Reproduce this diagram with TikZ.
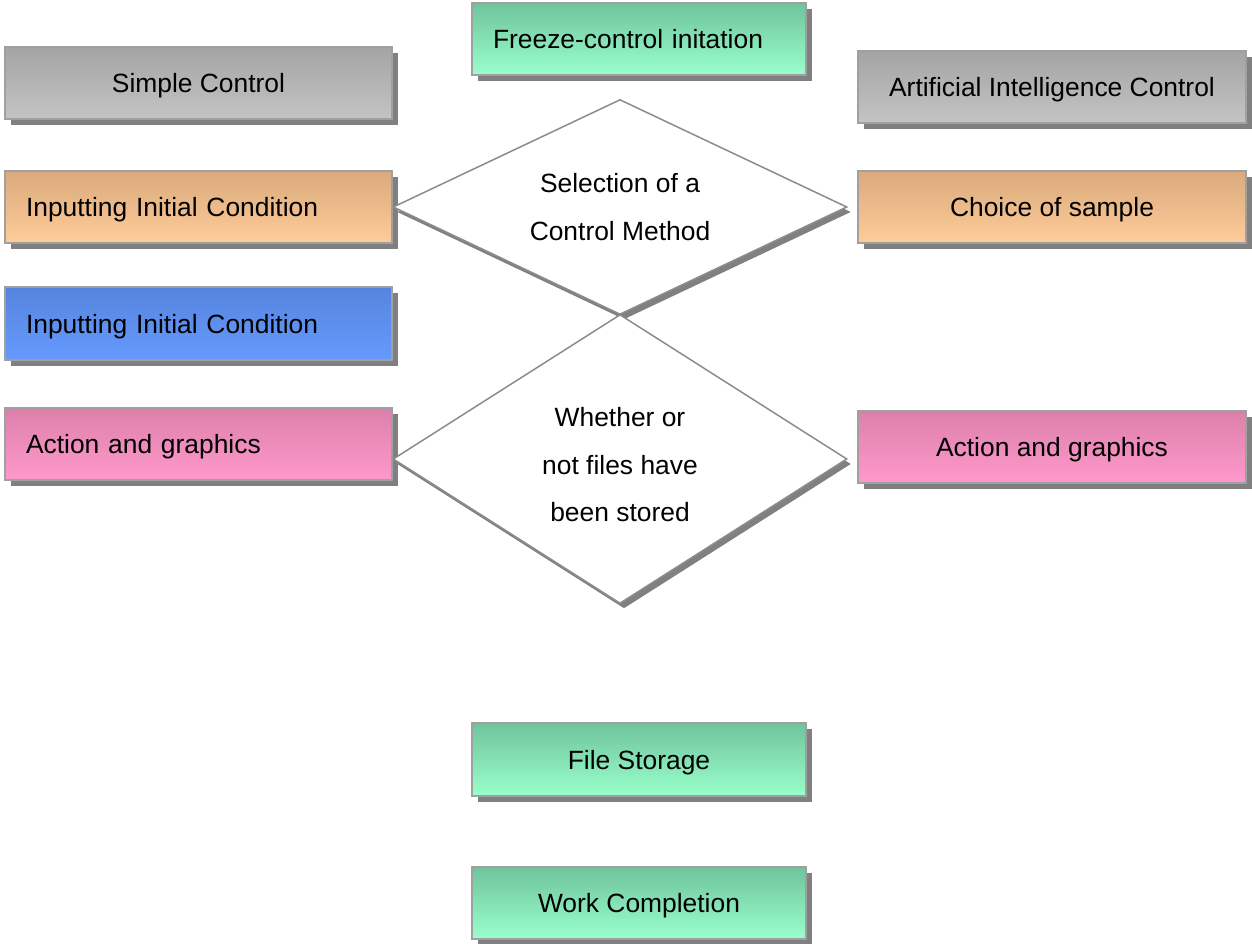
\documentclass[tikz,border=0pt]{standalone}
\usepackage{fontspec}
\setmainfont{Liberation Sans}
\usetikzlibrary{shapes.geometric,shadows}
\definecolor{shgray}{HTML}{808080}
\definecolor{bordergray}{HTML}{A0A0A0}
\definecolor{diagray}{HTML}{8C8C8C}
\definecolor{grayTop}{HTML}{A4A4A4}
\definecolor{grayBot}{HTML}{C4C4C4}
\definecolor{greenTop}{HTML}{70C49C}
\definecolor{greenBot}{HTML}{99FFCC}
\definecolor{orangeTop}{HTML}{DAAA7D}
\definecolor{orangeBot}{HTML}{FFCC99}
\definecolor{blueTop}{HTML}{5585DD}
\definecolor{blueBot}{HTML}{6699FF}
\definecolor{pinkTop}{HTML}{DC80AA}
\definecolor{pinkBot}{HTML}{FF99CC}
\begin{document}
\begin{tikzpicture}[x=1pt,y=-1pt,
  box/.style={rectangle, draw=bordergray, line width=1.5pt, inner ysep=0pt, inner xsep=0pt,
    minimum width=387pt, minimum height=72pt,
    font=\fontsize{26.4}{47.5}\selectfont, text height=19pt, text depth=0pt,
    drop shadow={shadow xshift=6pt, shadow yshift=-6pt, fill=shgray, opacity=1}},
  leftbox/.style={box, inner xsep=21pt, text width=345pt, align=left},
  narrow/.style={minimum width=334pt},
  graybox/.style={top color=grayTop, bottom color=grayBot},
  greenbox/.style={top color=greenTop, bottom color=greenBot},
  orangebox/.style={top color=orangeTop, bottom color=orangeBot},
  bluebox/.style={top color=blueTop, bottom color=blueBot},
  pinkbox/.style={top color=pinkTop, bottom color=pinkBot},
  decision/.style={diamond, draw=diagray, line width=1.5pt, fill=white, inner sep=0pt,
    minimum width=454pt, align=center,
    font=\fontsize{26.4}{47.5}\selectfont,
    drop shadow={shadow xshift=4pt, shadow yshift=-5pt, fill=shgray, opacity=1}},
  dlabel/.style={align=center, font=\fontsize{26.4}{47.5}\selectfont, inner sep=0pt}
]
\useasboundingbox (0,0) rectangle (1252,944);

\node[box, graybox] (simple) at (198.5,83) {Simple Control};
\node[box, graybox, minimum width=388pt] (ai) at (1052,87) {Artificial Intelligence Control};
\node[leftbox, greenbox, narrow, text width=292pt] (freeze) at (639,39) {Freeze-control initation};
\node[leftbox, orangebox] (inputL) at (198.5,207) {Inputting Initial Condition};
\node[box, orangebox, minimum width=388pt] (choice) at (1052,207) {Choice of sample};
\node[leftbox, bluebox, minimum height=73pt] (inputB) at (198.5,323.5) {Inputting Initial Condition};
\node[leftbox, pinkbox] (actionL) at (198.5,444) {Action and graphics};
\node[box, pinkbox, minimum width=388pt] (actionR) at (1052,447) {Action and graphics};
\node[box, greenbox, narrow, minimum height=73pt] (file) at (639,759.5) {File Storage};
\node[box, greenbox, narrow] (work) at (639,903) {Work Completion};

\node[decision, minimum height=215pt, shape aspect=2.11] (sel) at (620,207)
  {Selection of a\\Control Method};
\node[decision, minimum height=289pt, shape aspect=1.57,
  label={[dlabel, yshift=-6pt]center:Whether or\\not files have\\been stored}] (stored) at (620,459) {};
\end{tikzpicture}
\end{document}
